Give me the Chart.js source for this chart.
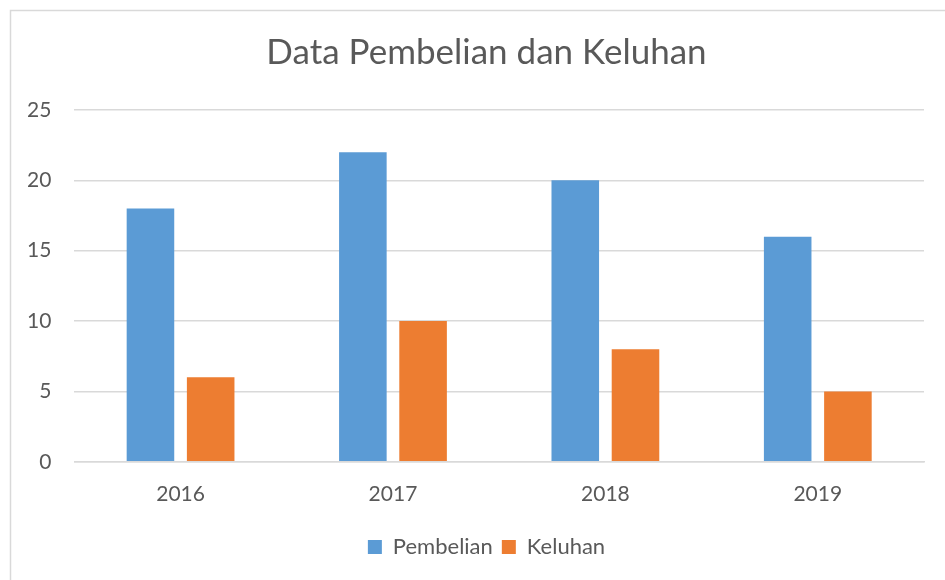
<!DOCTYPE html>
<html>
<head>
<meta charset="utf-8">
<script src="https://cdn.jsdelivr.net/npm/chart.js@4.4.1/dist/chart.umd.min.js"></script>
<style>
html,body{margin:0;padding:0;background:#fff;}
#wrap{width:945px;height:580px;position:relative;}
</style>
</head>
<body>
<div id="wrap"><canvas id="c" width="945" height="580"></canvas></div>
<script>
const categories = ["2016", "2017", "2018", "2019"];
const pembelian = [18, 22, 20, 16];
const keluhan = [6, 10, 8, 5];
const yTicks = [0, 5, 10, 15, 20, 25];

const FONT = "Lato, 'Open Sans', sans-serif";
const TXT = "#595959";

const frame = {
  id: 'frame',
  afterLayout(chart) {
    // centre title and legend on the outer chart frame (x 28..945)
    [chart.titleBlock, chart.legend].forEach(b => {
      if (!b) return;
      b.left = 28; b.right = 945; b.width = 917;
    });
  },
  beforeDraw(chart) {
    const ctx = chart.ctx;
    ctx.save();
    ctx.fillStyle = '#fff';
    ctx.fillRect(0, 0, chart.width, chart.height);
    ctx.strokeStyle = '#d9d9d9';
    ctx.lineWidth = 1.5;
    ctx.beginPath();
    ctx.moveTo(10.5, chart.height);
    ctx.lineTo(10.5, 10.5);
    ctx.lineTo(chart.width, 10.5);
    ctx.stroke();
    ctx.restore();
  }
};

new Chart(document.getElementById('c'), {
  type: 'bar',
  data: {
    labels: categories,
    datasets: [
      { label: 'Pembelian', data: pembelian, backgroundColor: '#5B9BD5', categoryPercentage: 0.567, barPercentage: 0.79 },
      { label: 'Keluhan', data: keluhan, backgroundColor: '#ED7D31', categoryPercentage: 0.567, barPercentage: 0.79 }
    ]
  },
  options: {
    responsive: false,
    animation: false,
    devicePixelRatio: 1,
    layout: { padding: { left: 4, right: 21, top: 10, bottom: 12 } },
    plugins: {
      title: {
        display: true,
        text: 'Data Pembelian dan Keluhan',
        color: TXT,
        font: { family: FONT, size: 35, weight: 'normal', lineHeight: 1.2 },
        padding: { top: 22, bottom: 36 }
      },
      legend: {
        position: 'bottom',
        labels: {
          color: TXT,
          font: { family: FONT, size: 22 },
          boxWidth: 14,
          boxHeight: 14,
          padding: 9
        }
      },
      tooltip: { enabled: false }
    },
    scales: {
      x: {
        grid: { display: false, drawTicks: false },
        border: { display: true, color: '#d9d9d9', width: 1.5 },
        ticks: { color: TXT, font: { family: FONT, size: 21 }, padding: 20 }
      },
      y: {
        min: 0,
        max: 25,
        afterBuildTicks(axis) { axis.ticks = yTicks.map(v => ({ value: v })); },
        grid: { color: '#d9d9d9', lineWidth: 1.5, drawTicks: false },
        border: { display: false },
        ticks: { color: TXT, font: { family: FONT, size: 21 }, padding: 23 }
      }
    }
  },
  plugins: [frame]
});
</script>
</body>
</html>
